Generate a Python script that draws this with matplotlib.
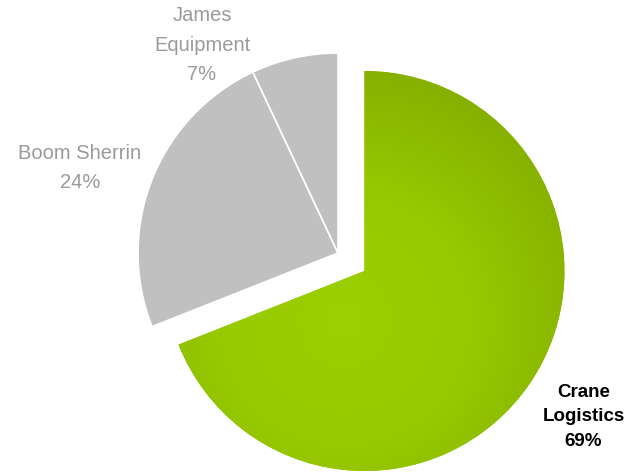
import numpy as np
import matplotlib
matplotlib.use("Agg")
from matplotlib import pyplot as plt
from matplotlib.colors import LinearSegmentedColormap

# data
companies = ["Crane Logistics", "Boom Sherrin", "James Equipment"]
shares = [69, 24, 7]
label_texts = ["Crane\nLogistics\n69%", "Boom Sherrin\n24%", "James\nEquipment\n7%"]


def main():
    fig = plt.figure(figsize=(6.28, 4.73), dpi=100)
    ax = fig.add_axes([0, 0, 1, 1])

    explode = [0.16, 0, 0]
    colors = ["#93c400", "#c0c0c0", "#c0c0c0"]
    wedges, _ = ax.pie(shares, startangle=90, counterclock=False, explode=explode,
                       colors=colors, radius=1.0, center=(0, 0), frame=True,
                       wedgeprops=dict(edgecolor="white", linewidth=1.2))
    ax.set_xlim(-1.69, 1.45)
    ax.set_ylim(-1.1, 1.265)
    ax.set_aspect("equal")
    ax.axis("off")

    # radial gradient on the green wedge (light spot a bit left/below the tip)
    w = wedges[0]
    cx, cy = w.center
    gx, gy = cx - 0.1, cy - 0.25
    green = LinearSegmentedColormap.from_list("g", ["#9dd000", "#97c900", "#85af00"])
    xs = np.linspace(cx - 1.1, cx + 1.1, 300)
    ys = np.linspace(cy - 1.1, cy + 1.1, 300)
    X, Y = np.meshgrid(xs, ys)
    R = np.sqrt((X - gx) ** 2 + (Y - gy) ** 2)
    img = ax.imshow(R, cmap=green, vmin=0, vmax=1.3, origin="lower",
                    extent=(xs[0], xs[-1], ys[0], ys[-1]), interpolation="bilinear", zorder=3)
    img.set_clip_path(w)
    w.set_edgecolor("none")

    # labels, placed like the original
    label_pos = [(1.095, -0.73), (-1.29, 0.425), (-0.68, 1.04)]
    for i, txt in enumerate(label_texts):
        x, y = label_pos[i]
        if i == 0:
            x, y = x + cx, y + cy
            ax.text(x, y, txt, ha="center", va="center", fontsize=13.5, fontweight="bold",
                    color="#000000", family="Liberation Sans", linespacing=1.55)
        else:
            ax.text(x, y, txt, ha="center", va="center", fontsize=14.5,
                    color="#9a9a9a", family="Liberation Sans", linespacing=1.72)

    plt.savefig("out.png", dpi=100)


if __name__ == '__main__':
    main()
